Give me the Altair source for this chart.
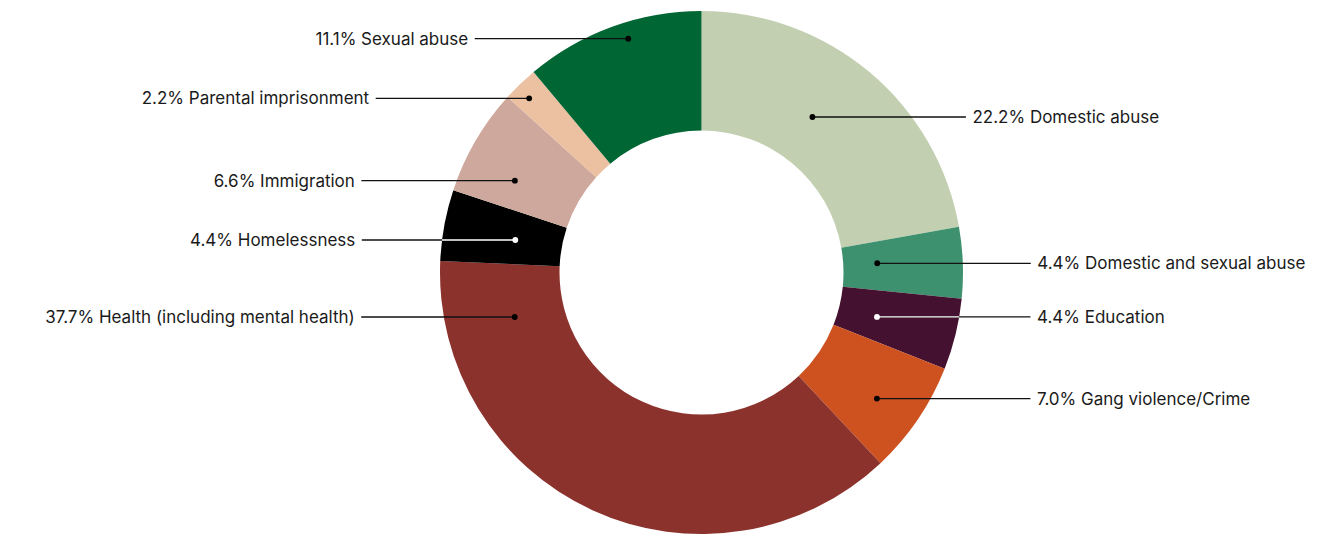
import altair as alt
import pandas as pd

# ---- data ----
categories = [
    "Domestic abuse",
    "Domestic and sexual abuse",
    "Education",
    "Gang violence/Crime",
    "Health (including mental health)",
    "Homelessness",
    "Immigration",
    "Parental imprisonment",
    "Sexual abuse",
]
shares = [22.2, 4.4, 4.4, 7.0, 37.7, 4.4, 6.6, 2.2, 11.1]

# ---- styles / layout ----
colors = ["#c3cfb1", "#3e916f", "#451130", "#cd5220", "#8c322d",
          "#000000", "#cea89c", "#ecc1a2", "#006633"]
marker_colors = ["#000000", "#000000", "#ffffff", "#000000", "#000000",
                 "#ffffff", "#000000", "#000000", "#000000"]
# anchor of each leader line on the ring (angle clockwise from 12 o'clock, radius px)
anchor_angle = [35.5, 87.0, 104.2, 125.7, 256.6, 279.9, 296.2, 315.3, 342.6]
anchor_radius = [191, 176, 181, 216, 192, 189, 208, 245, 245]

W, H = 1323, 527
CX, CY = 693.5, 264.5
R_OUT, R_IN = 261.5, 142
LEADER = 153.5
GAP = 6.5

df = pd.DataFrame({
    "category": categories,
    "share": shares,
    "order": list(range(len(categories))),
    "ang": anchor_angle,
    "rad": anchor_radius,
    "mcolor": marker_colors,
})

xs = alt.Scale(domain=[-CX, W - CX], nice=False, zero=False)
ys = alt.Scale(domain=[-(H - CY), CY], nice=False, zero=False)

base = alt.Chart(df)

donut = base.mark_arc(innerRadius=R_IN, outerRadius=R_OUT).encode(
    theta=alt.Theta("share:Q", stack=True),
    color=alt.Color("category:N", scale=alt.Scale(domain=categories, range=colors), legend=None),
    order=alt.Order("order:Q"),
    x=alt.XDatum(0, type="quantitative", scale=xs, axis=None),
    y=alt.YDatum(0, type="quantitative", scale=ys, axis=None),
)

anchors = (
    base.transform_calculate(side="datum.ang < 180 ? 1 : -1")
    .transform_calculate(px="datum.rad * sin(datum.ang * PI / 180)")
    .transform_calculate(py="datum.rad * cos(datum.ang * PI / 180)")
    .transform_calculate(lx=f"datum.px + datum.side * {LEADER}")
    .transform_calculate(tx=f"datum.px + datum.side * {LEADER + GAP}")
    .transform_calculate(ex=f"datum.side * sqrt({R_OUT} * {R_OUT} - datum.py * datum.py)")
    .transform_calculate(label="format(datum.share, '.1f') + '% ' + datum.category")
)

X = lambda f: alt.X(f, type="quantitative", scale=xs, axis=None)
Y = lambda f: alt.Y(f, type="quantitative", scale=ys, axis=None)

leaders = anchors.mark_rule(strokeWidth=1.3, color="#111111").encode(
    x=X("px"), x2="lx:Q", y=Y("py")
)
leaders_white = anchors.transform_filter("datum.mcolor == '#ffffff'").mark_rule(
    strokeWidth=1.3, color="#ffffff"
).encode(x=X("px"), x2="ex:Q", y=Y("py"))

dots = anchors.mark_circle(size=34, opacity=1).encode(
    x=X("px"), y=Y("py"),
    fill=alt.Fill("mcolor:N", scale=None),
)

text_style = dict(baseline="middle", font="Inter", fontSize=17, color="#1a1a1a", dy=1)
labels_right = anchors.transform_filter("datum.side > 0").mark_text(align="left", **text_style).encode(
    x=X("tx"), y=Y("py"), text="label:N"
)
labels_left = anchors.transform_filter("datum.side < 0").mark_text(align="right", **text_style).encode(
    x=X("tx"), y=Y("py"), text="label:N"
)

chart = (
    alt.layer(donut, leaders, leaders_white, dots, labels_right, labels_left)
    .resolve_scale(color="independent", fill="independent")
    .properties(width=W, height=H, padding=0, autosize=alt.AutoSizeParams(type="none"), background="#ffffff")
    .configure_view(stroke=None)
)

chart.save("out.html", embed_options={"renderer": "svg", "actions": False})
